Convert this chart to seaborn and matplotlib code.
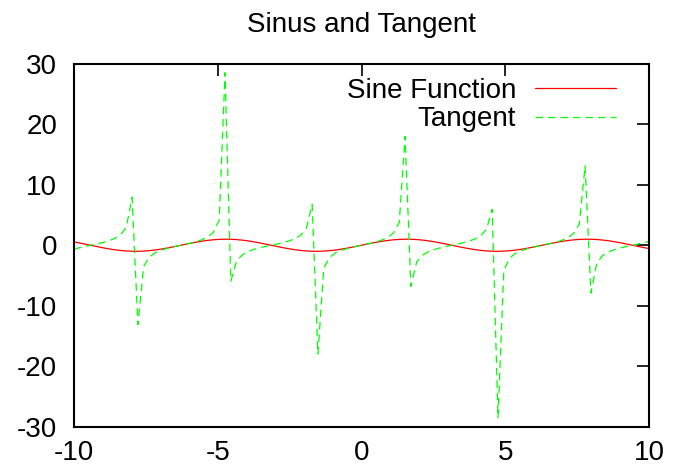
import matplotlib
matplotlib.use("Agg")
import matplotlib.pyplot as plt
import seaborn as sns
import pandas as pd
from matplotlib.lines import Line2D

# Sample positions (100 samples between -10 and 10)
x_vals = [
    -10.0, -9.7980, -9.5960, -9.3939, -9.1919, -8.9899, -8.7879, -8.5859, -8.3838, -8.1818,
    -7.9798, -7.7778, -7.5758, -7.3737, -7.1717, -6.9697, -6.7677, -6.5657, -6.3636, -6.1616,
    -5.9596, -5.7576, -5.5556, -5.3535, -5.1515, -4.9495, -4.7475, -4.5455, -4.3434, -4.1414,
    -3.9394, -3.7374, -3.5354, -3.3333, -3.1313, -2.9293, -2.7273, -2.5253, -2.3232, -2.1212,
    -1.9192, -1.7172, -1.5152, -1.3131, -1.1111, -0.9091, -0.7071, -0.5051, -0.3030, -0.1010,
    0.1010, 0.3030, 0.5051, 0.7071, 0.9091, 1.1111, 1.3131, 1.5152, 1.7172, 1.9192,
    2.1212, 2.3232, 2.5253, 2.7273, 2.9293, 3.1313, 3.3333, 3.5354, 3.7374, 3.9394,
    4.1414, 4.3434, 4.5455, 4.7475, 4.9495, 5.1515, 5.3535, 5.5556, 5.7576, 5.9596,
    6.1616, 6.3636, 6.5657, 6.7677, 6.9697, 7.1717, 7.3737, 7.5758, 7.7778, 7.9798,
    8.1818, 8.3838, 8.5859, 8.7879, 8.9899, 9.1919, 9.3939, 9.5960, 9.7980, 10.0,
]

sine_vals = [
    0.5440, 0.3646, 0.1703, -0.0308, -0.2308, -0.4213, -0.5947, -0.7439, -0.8629, -0.9467,
    -0.9921, -0.9971, -0.9615, -0.8869, -0.7762, -0.6338, -0.4658, -0.2787, -0.0804, 0.1213,
    0.3180, 0.5017, 0.6651, 0.8014, 0.9051, 0.9720, 0.9994, 0.9861, 0.9327, 0.8414,
    0.7158, 0.5612, 0.3837, 0.1906, -0.0103, -0.2107, -0.4026, -0.5780, -0.7300, -0.8523,
    -0.9399, -0.9893, -0.9985, -0.9670, -0.8962, -0.7890, -0.6496, -0.4839, -0.2984, -0.1008,
    0.1008, 0.2984, 0.4839, 0.6496, 0.7890, 0.8962, 0.9670, 0.9985, 0.9893, 0.9399,
    0.8523, 0.7300, 0.5780, 0.4026, 0.2107, 0.0103, -0.1906, -0.3837, -0.5612, -0.7158,
    -0.8414, -0.9327, -0.9861, -0.9994, -0.9720, -0.9051, -0.8014, -0.6651, -0.5017, -0.3180,
    -0.1213, 0.0804, 0.2787, 0.4658, 0.6338, 0.7762, 0.8869, 0.9615, 0.9971, 0.9921,
    0.9467, 0.8629, 0.7439, 0.5947, 0.4213, 0.2308, 0.0308, -0.1703, -0.3646, -0.5440,
]

tangent_vals = [
    -0.6484, -0.3915, -0.1729, 0.0308, 0.2372, 0.4645, 0.7398, 1.1132, 1.7073, 2.9402,
    7.9058, -13.096, -3.5009, -1.9196, -1.2309, -0.8195, -0.5263, -0.2902, -0.0806, 0.1222,
    0.3354, 0.5800, 0.8907, 1.3399, 2.1289, 4.1380, 28.487, -5.9347, -2.5863, -1.5568,
    -1.0251, -0.6780, -0.4155, -0.1941, 0.0103, 0.2155, 0.4398, 0.7084, 1.0682, 1.6295,
    2.7531, 6.7824, -17.954, -3.7948, -2.0200, -1.2840, -0.8545, -0.5529, -0.3127, -0.1014,
    0.1014, 0.3127, 0.5529, 0.8545, 1.2840, 2.0200, 3.7948, 17.954, -6.7824, -2.7531,
    -1.6295, -1.0682, -0.7084, -0.4398, -0.2155, -0.0103, 0.1941, 0.4155, 0.6780, 1.0251,
    1.5568, 2.5863, 5.9347, -28.487, -4.1380, -2.1289, -1.3399, -0.8907, -0.5800, -0.3354,
    -0.1222, 0.0806, 0.2902, 0.5263, 0.8195, 1.2309, 1.9196, 3.5009, 13.096, -7.9058,
    -2.9402, -1.7073, -1.1132, -0.7398, -0.4645, -0.2372, -0.0308, 0.1729, 0.3915, 0.6484,
]

series_names = ["Sine Function", "Tangent"]
series_colors = ["#ff0000", "#00ff00"]
x_ticks = [-10, -5, 0, 5, 10]
y_ticks = [-30, -20, -10, 0, 10, 20, 30]
title_text = "Sinus and Tangent"

sns.set_theme(style="white")
plt.rcParams["font.family"] = ["Liberation Sans", "DejaVu Sans"]
plt.rcParams["text.color"] = "black"
plt.rcParams["axes.labelcolor"] = "black"
plt.rcParams["xtick.color"] = "black"
plt.rcParams["ytick.color"] = "black"

df = pd.DataFrame({
    "x": x_vals * 2,
    "y": sine_vals + tangent_vals,
    "series": [series_names[0]] * len(x_vals) + [series_names[1]] * len(x_vals),
})

fig = plt.figure(figsize=(6.75, 4.67), dpi=100)
ax = fig.add_axes([74 / 675, 1 - 427 / 467, (649 - 74) / 675, (427 - 63.5) / 467])

sns.lineplot(
    data=df, x="x", y="y", hue="series", style="series",
    palette=dict(zip(series_names, series_colors)),
    dashes={series_names[0]: "", series_names[1]: (6, 4)},
    linewidth=0.9, ax=ax, sort=False, estimator=None, legend=False,
)

handles = [
    Line2D([], [], color=series_colors[0], linewidth=0.9),
    Line2D([], [], color=series_colors[1], linewidth=0.9, dashes=(6, 4)),
]
leg = ax.legend(handles, series_names, loc="upper right",
                bbox_to_anchor=(1 - 33 / 575, 1 - 14 / 363.5),
                frameon=False, markerfirst=False, fontsize=20, handlelength=2.9,
                handletextpad=0.7, labelspacing=0.1, borderpad=0, borderaxespad=0)
for t in leg.get_texts():
    t.set_color("black")

ax.set_xlim(-10, 10)
ax.set_ylim(-30, 30)
ax.set_xticks(x_ticks)
ax.set_yticks(y_ticks)
ax.set_xticklabels([str(v) for v in x_ticks])
ax.set_yticklabels([str(v) for v in y_ticks])
ax.set_xlabel("")
ax.set_ylabel("")
ax.tick_params(axis="both", direction="in", length=8.5, width=1.2, color="black",
               labelsize=20, labelcolor="black", top=True, right=True)
ax.tick_params(axis="y", pad=12)
ax.tick_params(axis="x", pad=9.5)
for s in ax.spines.values():
    s.set_color("black")
    s.set_linewidth(1.5)
    s.set_visible(True)
ax.set_title(title_text, fontsize=20, pad=22.5, color="black")

fig.savefig("out.png", dpi=100)
